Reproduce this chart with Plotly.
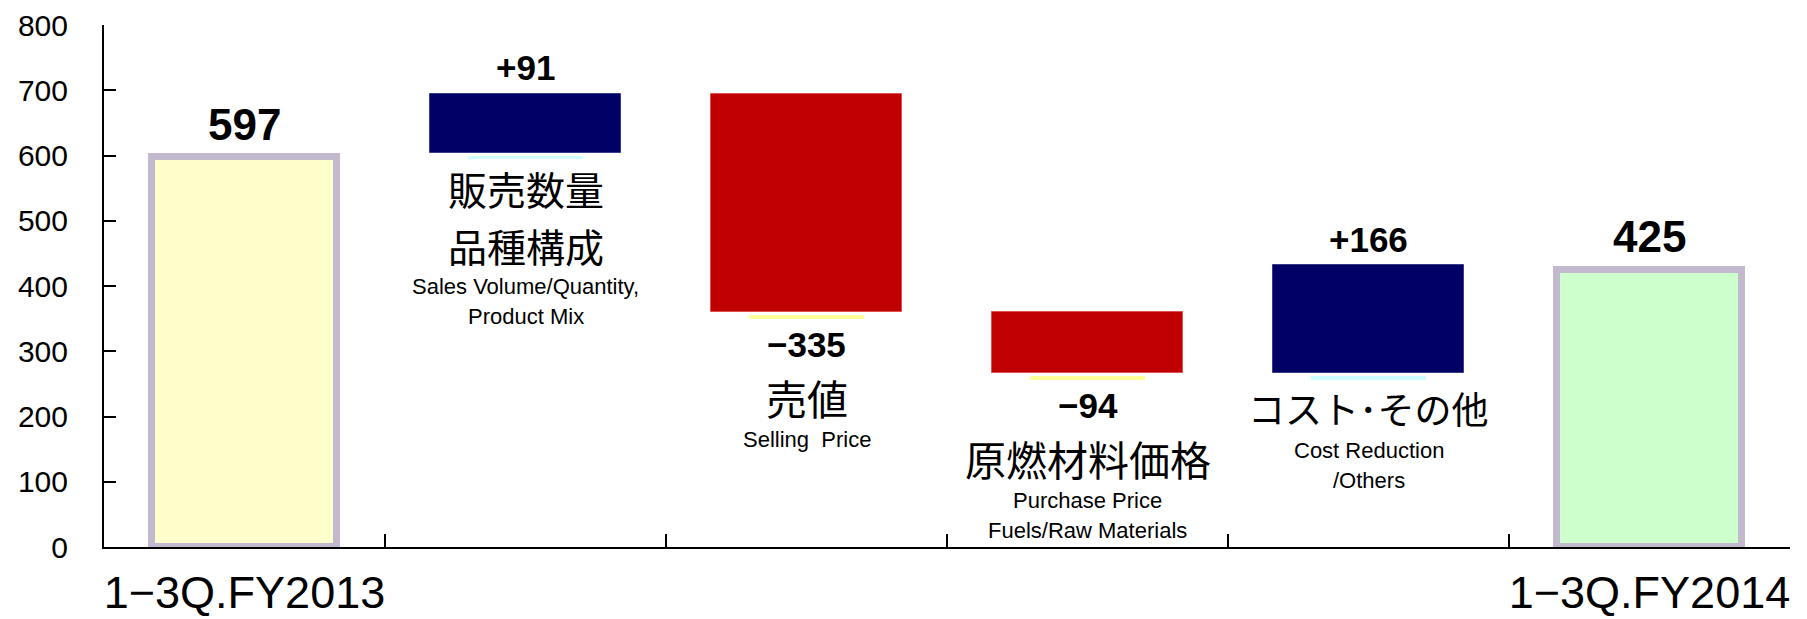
import plotly.graph_objects as go

# ---- data -------------------------------------------------------------
categories = ["start", "volume", "price", "materials", "cost", "end"]
tick_labels = ["1−3Q.FY2013", "", "", "", "", "1−3Q.FY2014"]
start_total = 597
end_total = 425
deltas = [91, -335, -94, 166]
jp_labels = [["販売数量", "品種構成"], ["売値"], ["原燃材料価格"], ["コスト･その他"]]
en_labels = [["Sales Volume/Quantity,", "Product Mix"],
             ["Selling\u00a0 Price"],
             ["Purchase Price", "Fuels/Raw Materials"],
             ["Cost Reduction", "/Others"]]

# ---- styling ----------------------------------------------------------
NAVY = "#000066"
RED = "#C00000"
TOTAL_FILLS = ["#FFFFCC", "#CCFFCC"]
TOTAL_EDGE = "#C3B9CF"
MARK_UP = "#CCFFFF"
MARK_DOWN = "#FFFF99"
LIFT = 7        # step bars float slightly above their running level
MARK_H = 6      # thickness of the level marker under each bar
NUM_FONT = "Liberation Sans, Arial, sans-serif"
JP_FONT = "Noto Sans CJK JP, sans-serif"
JP_LINE = 57    # px between stacked Japanese lines

# running levels of the bridge
levels = [start_total]
for d in deltas:
    levels.append(levels[-1] + d)
lows = [min(a, b) for a, b in zip(levels[:-1], levels[1:])]
highs = [max(a, b) for a, b in zip(levels[:-1], levels[1:])]
step_cats = categories[1:5]

fig = go.Figure()

# level markers (thin strips at the true running level)
mark_levels = [0] + lows + [0]
mark_colors = [MARK_UP] + [MARK_UP if d > 0 else MARK_DOWN for d in deltas] + [MARK_DOWN]
fig.add_trace(go.Bar(
    x=categories, y=[MARK_H] * len(categories),
    base=[v - MARK_H / 2 for v in mark_levels],
    width=0.41, marker=dict(color=mark_colors, line=dict(width=0)),
    hoverinfo="skip", showlegend=False))

# totals
fig.add_trace(go.Bar(
    x=[categories[0], categories[-1]], y=[start_total, end_total], base=0,
    width=0.655,
    marker=dict(color=TOTAL_FILLS, line=dict(color=TOTAL_EDGE, width=7)),
    showlegend=False))

# step bars
fig.add_trace(go.Bar(
    x=step_cats, y=[abs(d) for d in deltas],
    base=[lo + LIFT for lo in lows],
    width=0.68,
    marker=dict(color=[NAVY if d > 0 else RED for d in deltas],
                line=dict(color=["#3A3A8C" if d > 0 else "#E05050" for d in deltas], width=1)),
    showlegend=False))

ann = []
# total value labels
for cat, val in [(categories[0], start_total), (categories[-1], end_total)]:
    ann.append(dict(x=cat, y=val, yshift=33, text=f"<b>{val}</b>",
                    font=dict(family=NUM_FONT, size=44, color="black")))

# step labels
for cat, d, lo, hi, jp, en in zip(step_cats, deltas, lows, highs, jp_labels, en_labels):
    bottom = lo + LIFT
    if d > 0:
        ann.append(dict(x=cat, y=hi + LIFT, yshift=26, text=f"<b>+{d}</b>",
                        font=dict(family=NUM_FONT, size=35, color="black")))
        off = 35
    else:
        ann.append(dict(x=cat, y=bottom, yshift=-32, text=f"<b>−{abs(d)}</b>",
                        font=dict(family=NUM_FONT, size=35, color="black")))
        off = 85
    if len(jp) > 1:
        jp_size = 39
    elif len(jp[0]) >= 7:
        jp_size = 37
    else:
        jp_size = 41
    for line in jp:
        ann.append(dict(x=cat, y=bottom, yshift=-off, text=line,
                        font=dict(family=JP_FONT, size=jp_size, color="black")))
        off += JP_LINE
    off += 42 - JP_LINE
    for line in en:
        ann.append(dict(x=cat, y=bottom, yshift=-off, text=line,
                        font=dict(family=NUM_FONT, size=22, color="black")))
        off += 30

for a in ann:
    a.update(xref="x", yref="y", showarrow=False, xanchor="center", yanchor="middle",
             borderpad=0)

fig.update_layout(
    width=1807, height=619,
    margin=dict(l=104, r=17, t=25, b=72),
    paper_bgcolor="white", plot_bgcolor="white",
    barmode="overlay", bargap=0,
    annotations=ann,
    xaxis=dict(
        type="category", categoryorder="array", categoryarray=categories,
        range=[-0.5, 5.5], tickson="boundaries",
        tickvals=categories, ticktext=tick_labels, tickangle=0,
        ticks="inside", ticklen=13, tickwidth=2, tickcolor="black",
        showline=True, linecolor="black", linewidth=2,
        showgrid=False, zeroline=False, automargin=False,
        tickfont=dict(family=NUM_FONT, size=45, color="black"),
        ticklabelstandoff=5,
    ),
    yaxis=dict(
        range=[0, 800], tickvals=list(range(0, 801, 100)),
        ticks="inside", ticklen=12, tickwidth=2, tickcolor="black",
        showline=True, linecolor="black", linewidth=2,
        showgrid=False, zeroline=False, automargin=False,
        tickfont=dict(family=NUM_FONT, size=30, color="black"),
        ticklabelstandoff=28,
    ),
)

fig.write_html("out.html")
